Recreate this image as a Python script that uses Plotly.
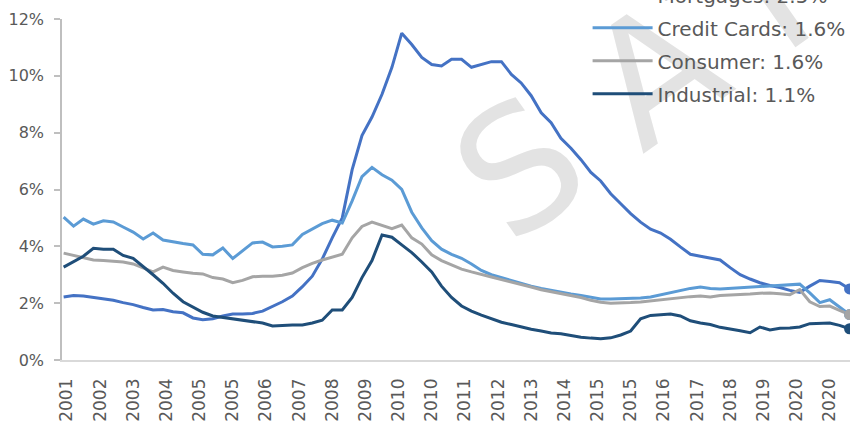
import pandas as pd
import plotly.graph_objects as go

# Quarterly delinquency rates (%), 2001Q3 - 2021Q2
quarters = pd.date_range("2001-09-01", periods=80, freq="3MS")

mortgages = [
    2.22, 2.27, 2.25, 2.20, 2.15, 2.10, 2.02, 1.95, 1.85, 1.76,
    1.78, 1.70, 1.66, 1.48, 1.42, 1.45, 1.55, 1.62, 1.62, 1.64,
    1.72, 1.88, 2.05, 2.25, 2.58, 2.95, 3.55, 4.30, 5.00, 6.70,
    7.90, 8.55, 9.35, 10.30, 11.50, 11.10, 10.65, 10.40, 10.35, 10.58,
    10.58, 10.30, 10.40, 10.50, 10.50, 10.05, 9.75, 9.30, 8.70, 8.35,
    7.80, 7.45, 7.05, 6.60, 6.30, 5.85, 5.50, 5.15, 4.85, 4.60,
    4.47, 4.25, 3.98, 3.72, 3.65, 3.58, 3.52, 3.25, 3.00, 2.85,
    2.72, 2.62, 2.55, 2.45, 2.38, 2.60, 2.80, 2.76, 2.72, 2.50,
]
credit_cards = [
    5.03, 4.71, 4.96, 4.78, 4.90, 4.86, 4.68, 4.50, 4.26, 4.47,
    4.22, 4.15, 4.10, 4.05, 3.72, 3.70, 3.94, 3.57, 3.85, 4.12,
    4.15, 3.98, 4.00, 4.05, 4.42, 4.62, 4.80, 4.92, 4.82, 5.60,
    6.45, 6.78, 6.52, 6.33, 6.00, 5.20, 4.65, 4.20, 3.90, 3.72,
    3.58, 3.38, 3.15, 3.00, 2.90, 2.80, 2.68, 2.60, 2.52, 2.45,
    2.38, 2.32, 2.27, 2.20, 2.15, 2.15, 2.16, 2.17, 2.18, 2.22,
    2.30, 2.37, 2.45, 2.52, 2.57, 2.52, 2.50, 2.52, 2.55, 2.57,
    2.60, 2.62, 2.64, 2.66, 2.67, 2.36, 2.02, 2.12, 1.85, 1.60,
]
consumer = [
    3.76, 3.68, 3.62, 3.52, 3.50, 3.48, 3.45, 3.38, 3.25, 3.10,
    3.27, 3.15, 3.10, 3.05, 3.03, 2.90, 2.85, 2.72, 2.80, 2.93,
    2.95, 2.95, 2.98, 3.06, 3.25, 3.40, 3.52, 3.62, 3.72, 4.30,
    4.70, 4.85, 4.73, 4.62, 4.75, 4.30, 4.08, 3.70, 3.50, 3.35,
    3.20, 3.10, 3.00, 2.92, 2.83, 2.75, 2.65, 2.57, 2.47, 2.40,
    2.33, 2.27, 2.20, 2.10, 2.03, 2.00, 2.00, 2.02, 2.04, 2.08,
    2.13, 2.17, 2.20, 2.23, 2.25, 2.22, 2.27, 2.28, 2.30, 2.32,
    2.35, 2.36, 2.33, 2.30, 2.48, 2.05, 1.88, 1.90, 1.75, 1.60,
]
industrial = [
    3.27, 3.47, 3.65, 3.93, 3.90, 3.90, 3.68, 3.58, 3.30, 3.00,
    2.70, 2.35, 2.05, 1.85, 1.68, 1.55, 1.50, 1.47, 1.42, 1.36,
    1.30, 1.20, 1.22, 1.23, 1.23, 1.30, 1.40, 1.76, 1.76, 2.20,
    2.90, 3.50, 4.40, 4.32, 4.05, 3.78, 3.45, 3.10, 2.60, 2.20,
    1.90, 1.72, 1.58, 1.45, 1.33, 1.25, 1.16, 1.08, 1.02, 0.95,
    0.92, 0.85, 0.80, 0.77, 0.75, 0.78, 0.88, 1.02, 1.45, 1.57,
    1.60, 1.62, 1.55, 1.38, 1.30, 1.25, 1.15, 1.10, 1.03, 0.96,
    1.16, 1.06, 1.12, 1.13, 1.16, 1.28, 1.30, 1.30, 1.22, 1.10,
]

series_names = ["Mortgages", "Credit Cards", "Consumer", "Industrial"]
series_values = [mortgages, credit_cards, consumer, industrial]
series_colors = ["#4472C4", "#5B9BD5", "#A5A5A5", "#1F4E79"]

# Axis ticks every ten months
tick_dates = pd.date_range("2001-10-01", periods=24, freq="10MS")
tick_labels = [str(d.year) for d in tick_dates]

FONT = "DejaVu Sans"
TEXT = "#595959"

fig = go.Figure()

for name, vals, color in zip(series_names, series_values, series_colors):
    fig.add_trace(go.Scatter(
        x=quarters, y=vals, mode="lines",
        name=f"{name}: {vals[-1]:.1f}%",
        legendgroup=name,
        line=dict(color=color, width=3),
        hoverinfo="skip",
    ))

for name, vals, color in zip(series_names, series_values, series_colors):
    fig.add_trace(go.Scatter(
        x=[quarters[-1]], y=[vals[-1]], mode="markers",
        marker=dict(color=color, size=11),
        showlegend=False, legendgroup=name, hoverinfo="skip",
    ))

# Watermark behind the data
fig.add_shape(
    type="rect", xref="paper", yref="paper",
    x0=0.998, x1=1.018, y0=1.286, y1=1.306,
    line=dict(width=0), fillcolor="rgba(0,0,0,0)", layer="below",
    label=dict(text="S A M P L E", textangle=-35, textposition="middle center",
               font=dict(size=170, color="#e3e3e3", family=FONT)),
)

fig.update_layout(
    width=850, height=423,
    margin=dict(l=62, r=0, t=19, b=63, autoexpand=False),
    paper_bgcolor="white", plot_bgcolor="rgba(0,0,0,0)",
    font=dict(family=FONT, color=TEXT, size=17),
    showlegend=True,
    legend=dict(
        x=0.667, y=1.128, xanchor="left", yanchor="top",
        bgcolor="rgba(0,0,0,0)", borderwidth=0,
        font=dict(size=20, color=TEXT, family=FONT),
        tracegroupgap=4, itemwidth=60,
    ),
    xaxis=dict(
        type="date",
        range=["2001-08-17", "2021-06-05"],
        tickmode="array", tickvals=tick_dates, ticktext=tick_labels,
        tickangle=-90, showgrid=False, zeroline=False,
        showline=True, linecolor="#d9d9d9", linewidth=1.5,
        ticks="", ticklabelstandoff=10,
        tickfont=dict(size=17, color=TEXT),
    ),
    yaxis=dict(
        range=[0, 12], dtick=2, ticksuffix="%",
        showgrid=False, zeroline=False,
        showline=True, linecolor="#bfbfbf", linewidth=1.5,
        ticks="outside", ticklen=6, tickcolor="#bfbfbf", tickwidth=1.5,
        ticklabelstandoff=7,
        tickfont=dict(size=16, color=TEXT),
    ),
)

fig.write_html("out.html")
